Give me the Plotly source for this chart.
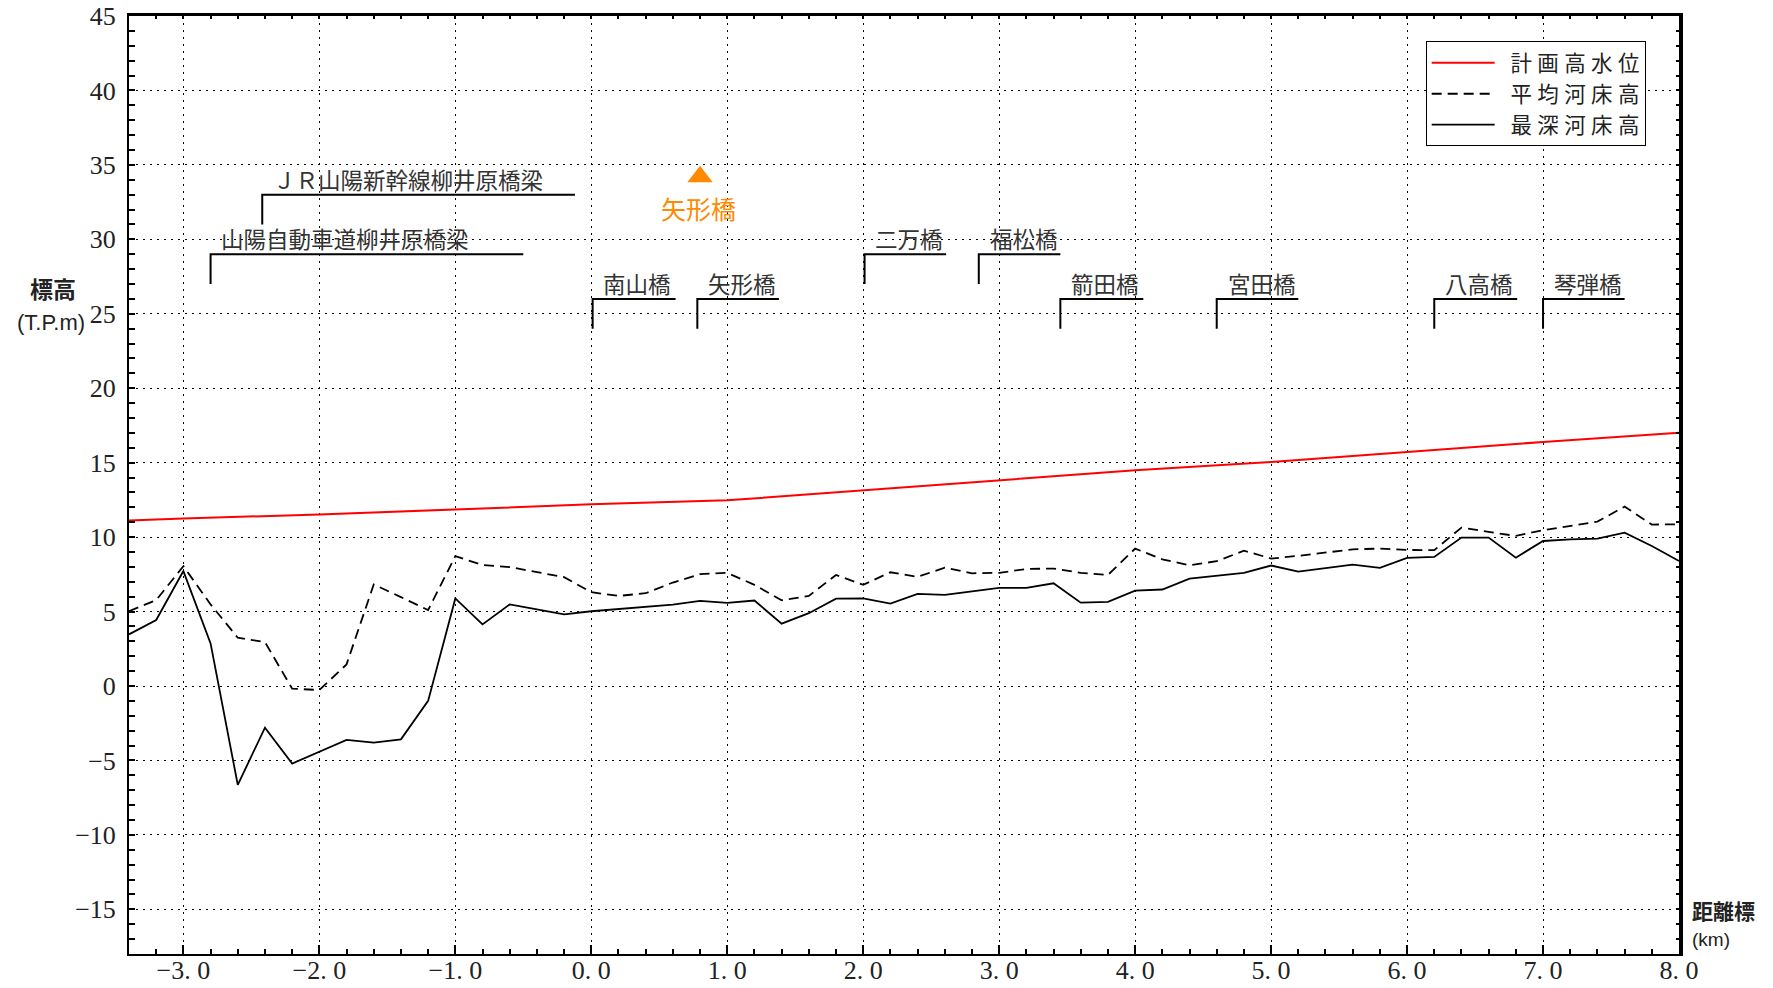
import plotly.graph_objects as go

# ---------------- data ----------------
km = [round(-3.4 + 0.2 * i, 1) for i in range(58)]

deepest_bed = [3.47, 4.43, 7.72, 2.86, -6.64, -2.80, -5.21, -4.40, -3.62, -3.80,
               -3.58, -1.00, 5.88, 4.14, 5.48, 5.15, 4.81,
               5.02, 5.16, 5.34, 5.47, 5.72, 5.58, 5.74, 4.19, 4.89, 5.87,
               5.89, 5.54, 6.19, 6.12, 6.36, 6.59, 6.59, 6.90, 5.60, 5.65,
               6.41, 6.48, 7.21, 7.39, 7.60, 8.09, 7.68, 7.91, 8.15, 7.93,
               8.60, 8.67, 9.97, 9.97, 8.62, 9.74, 9.85, 9.90, 10.30, 9.40,
               8.40]

mean_bed = [5.03, 5.77, 8.05, 5.48, 3.24, 2.95, -0.18, -0.27, 1.45, 6.82,
            5.97, 5.10, 8.72, 8.12, 7.99, 7.65, 7.31,
            6.30, 6.05, 6.23, 6.95, 7.51, 7.60, 6.79, 5.76, 6.05, 7.46,
            6.79, 7.64, 7.33, 7.95, 7.57, 7.60, 7.86, 7.89, 7.60, 7.46,
            9.23, 8.51, 8.11, 8.38, 9.09, 8.56, 8.74, 8.96, 9.18, 9.23,
            9.14, 9.12, 10.64, 10.35, 10.08, 10.46, 10.75, 11.04, 12.05, 10.84,
            10.86]

hwl_km = [-3.4, -3.0, -2.0, -1.0, 0.0, 1.0, 2.0, 3.0, 4.0, 5.0, 6.0, 7.0, 8.0]
hwl = [11.12, 11.25, 11.52, 11.86, 12.20, 12.47, 13.14, 13.81, 14.49, 15.04, 15.74, 16.39, 17.01]

bridge_names = ["山陽自動車道柳井原橋梁", "ＪＲ山陽新幹線柳井原橋梁", "南山橋", "矢形橋", "二万橋",
                "福松橋", "箭田橋", "宮田橋", "八高橋", "琴弾橋"]
bridge_km = [-2.80, -2.42, 0.01, 0.78, 2.01, 2.85, 3.45, 4.60, 6.20, 7.00]
bridge_end_km = [-0.50, -0.12, 0.62, 1.38, 2.61, 3.45, 4.06, 5.20, 6.81, 7.60]
bridge_level = [29, 33, 26, 26, 29, 29, 26, 26, 26, 26]
bracket_drop = 2.0

site_name = "矢形橋"
site_km = [0.80]
site_elev = [34.2]
site_label_elev = 32.1

x_tickvals = [-3, -2, -1, 0, 1, 2, 3, 4, 5, 6, 7, 8]
x_ticktext = ["−3. 0", "−2. 0", "−1. 0", "0. 0", "1. 0", "2. 0", "3. 0",
              "4. 0", "5. 0", "6. 0", "7. 0", "8. 0"]

legend_names = ["計画高水位", "平均河床高", "最深河床高"]

# ---------------- figure ----------------
SERIF = "Liberation Serif"
CJK = "Noto Sans CJK JP"
SANS = "Liberation Sans"
XR = [-3.4, 8.0]
YR = [-18, 45]

def spaced(s):
    return "\u2002" + "\u2005".join(s)

fig = go.Figure()

fig.add_trace(go.Scatter(x=hwl_km, y=hwl, mode="lines", name=spaced(legend_names[0]),
                         line=dict(color="#ff0000", width=2)))
fig.add_trace(go.Scatter(x=km, y=mean_bed, mode="lines", name=spaced(legend_names[1]),
                         line=dict(color="black", width=1.8, dash="10px,6px")))
fig.add_trace(go.Scatter(x=km, y=deepest_bed, mode="lines", name=spaced(legend_names[2]),
                         line=dict(color="black", width=1.8)))

# bridge brackets
bx, by = [], []
for x0, x1, lv in zip(bridge_km, bridge_end_km, bridge_level):
    bx += [x0, x0, x1, None]
    by += [lv - bracket_drop, lv, lv, None]
fig.add_trace(go.Scatter(x=bx, y=by, mode="lines", showlegend=False, hoverinfo="skip",
                         line=dict(color="black", width=2)))

# site marker
fig.add_trace(go.Scatter(x=site_km, y=site_elev, mode="markers", showlegend=False,
                         marker=dict(symbol="triangle-up", size=22, color="#ff8a00",
                                     line=dict(width=0))))

# dummy trace for top/right frame axes
fig.add_trace(go.Scatter(x=[], y=[], xaxis="x2", yaxis="y2", showlegend=False, hoverinfo="skip"))

ann = []
for name, x0, lv in zip(bridge_names, bridge_km, bridge_level):
    ann.append(dict(x=x0 + 0.065, y=lv + 1.08, xref="x", yref="y", text=name, showarrow=False,
                    xanchor="left", yanchor="middle",
                    font=dict(family=CJK, size=22.5, color="#333333")))
ann.append(dict(x=site_km[0] - 0.01, y=site_label_elev, xref="x", yref="y", text=site_name,
                showarrow=False, xanchor="center", yanchor="middle",
                font=dict(family=CJK, size=25, color="#ff8a00")))
# axis titles
ann.append(dict(x=-0.049, y=0.6898, xref="paper", yref="paper", text="<b>標高</b>",
                showarrow=False, xanchor="center", yanchor="bottom",
                font=dict(family=CJK, size=23, color="#222222")))
ann.append(dict(x=-0.0503, y=0.6892, xref="paper", yref="paper", text="(T.P.m)",
                showarrow=False, xanchor="center", yanchor="top",
                font=dict(family=SANS, size=22, color="#222222")))
ann.append(dict(x=1.0074, y=0.0293, xref="paper", yref="paper", text="<b>距離標</b>",
                showarrow=False, xanchor="left", yanchor="bottom",
                font=dict(family=CJK, size=21, color="#222222")))
ann.append(dict(x=1.0074, y=0.0288, xref="paper", yref="paper", text="(km)",
                showarrow=False, xanchor="left", yanchor="top",
                font=dict(family=SANS, size=19, color="#222222")))

tickfont = dict(family=SERIF, size=26, color="#222222")

fig.update_layout(
    width=1773, height=988,
    margin=dict(l=129, r=94, t=16, b=34, autoexpand=False),
    plot_bgcolor="white", paper_bgcolor="white",
    annotations=ann,
    legend=dict(x=0.9785, y=0.973, xanchor="right", yanchor="top",
                bordercolor="black", borderwidth=1, bgcolor="white",
                font=dict(family=CJK, size=21.5, color="#222222"),
                itemwidth=63, tracegroupgap=0),
    xaxis=dict(range=XR, tickvals=x_tickvals, ticktext=x_ticktext, tickfont=tickfont,
               ticklabelstandoff=-8,
               ticks="inside", ticklen=9, tickwidth=1.5, tickcolor="black",
               showline=True, linewidth=2, linecolor="black", zeroline=False,
               showgrid=True, gridcolor="black", gridwidth=1, griddash="2px,5px",
               minor=dict(dtick=0.2, tick0=0, ticks="inside", ticklen=5, tickwidth=1.5,
                          tickcolor="black", showgrid=False),
               automargin=False, fixedrange=True),
    yaxis=dict(range=YR, dtick=5, tick0=0, tickfont=tickfont, ticklabelstandoff=6,
               ticks="inside", ticklen=6, tickwidth=1.5, tickcolor="black",
               showline=True, linewidth=2, linecolor="black", zeroline=False,
               showgrid=True, gridcolor="black", gridwidth=1, griddash="2px,5px",
               minor=dict(dtick=1, tick0=0, ticks="inside", ticklen=6, tickwidth=1.5,
                          tickcolor="black", showgrid=False),
               automargin=False, fixedrange=True),
    xaxis2=dict(range=XR, overlaying="x", side="top", anchor="y", showticklabels=False,
                ticks="inside", ticklen=3, tickwidth=1.5, tickcolor="black", dtick=0.2, tick0=0,
                showline=True, linewidth=3, linecolor="black", showgrid=False, zeroline=False,
                automargin=False),
    yaxis2=dict(range=YR, overlaying="y", side="right", anchor="x", showticklabels=False,
                ticks="inside", ticklen=3, tickwidth=1.5, tickcolor="black", dtick=1, tick0=0,
                showline=True, linewidth=3.5, linecolor="black", showgrid=False, zeroline=False,
                automargin=False),
)

fig.write_html("out.html")
